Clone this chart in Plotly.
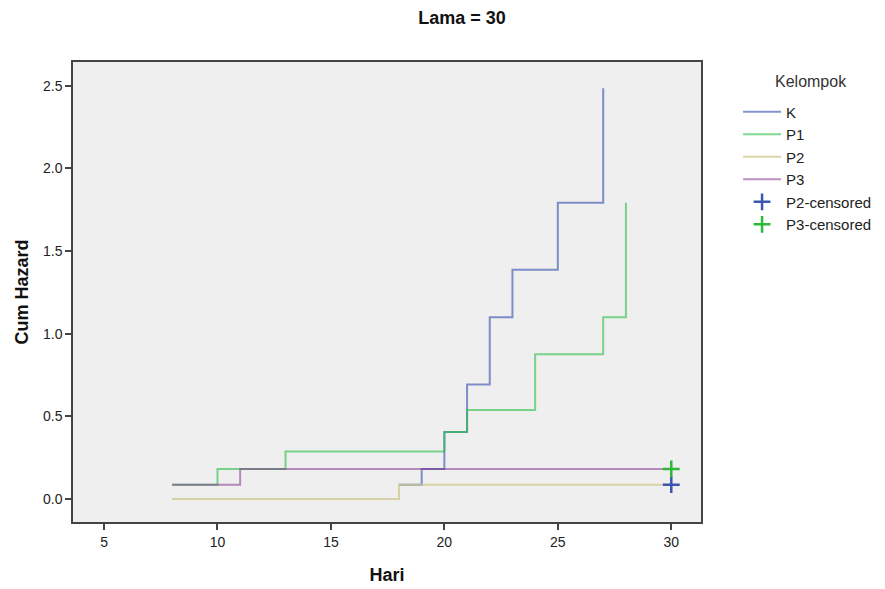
import numpy as np
import plotly.graph_objects as go

# Cumulative hazard step data (time, value after step)
k_time = [18, 19, 20, 21, 22, 23, 25, 27]
k_haz = [0.087, 0.182, 0.405, 0.693, 1.099, 1.386, 1.792, 2.485]

p1_time = [8, 10, 13, 20, 21, 24, 27, 28]
p1_haz = [0.087, 0.182, 0.288, 0.405, 0.539, 0.875, 1.099, 1.792]

p2_time = [8, 18, 30]
p2_haz = [0.0, 0.087, 0.087]

p3_time = [8, 11, 30]
p3_haz = [0.087, 0.182, 0.182]

p2_cens_time = [30]
p2_cens_haz = [0.087]
p3_cens_time = [30]
p3_cens_haz = [0.182]

x_ticks = [5, 10, 15, 20, 25, 30]
y_ticks = [0.0, 0.5, 1.0, 1.5, 2.0, 2.5]

FONT = "Liberation Sans, Arial, sans-serif"

fig = go.Figure()

def step(name, t, h, color):
    fig.add_trace(go.Scatter(
        x=t, y=h, mode="lines", name=name,
        line=dict(color=color, width=2, shape="hv"),
    ))

step("K", k_time, k_haz, "rgba(55,82,175,0.62)")
step("P1", p1_time, p1_haz, "rgba(40,190,70,0.6)")
step("P2", p2_time, p2_haz, "rgba(205,200,140,0.75)")
step("P3", p3_time, p3_haz, "rgba(123,36,129,0.5)")

fig.add_trace(go.Scatter(
    x=p2_cens_time, y=p2_cens_haz, mode="markers", name="P2-censored",
    marker=dict(symbol="cross-thin", size=12, line=dict(color="#3b57b0", width=2.5)),
))
fig.add_trace(go.Scatter(
    x=p3_cens_time, y=p3_cens_haz, mode="markers", name="P3-censored",
    marker=dict(symbol="cross-thin", size=12, line=dict(color="#2eb83a", width=2.5)),
))

fig.update_layout(
    width=885, height=589,
    margin=dict(l=65, r=192, t=54, b=75, autoexpand=False),
    paper_bgcolor="white",
    plot_bgcolor="#efefef",
    font=dict(family=FONT, size=13, color="#222"),
    title=dict(text="<b>Lama = 30</b>", x=454 / 885, xref="container",
               xanchor="center", y=1 - 10 / 589, yanchor="middle",
               font=dict(size=18, color="#111")),
    legend=dict(
        x=1.059, xanchor="left", y=0.927, yanchor="top",
        font=dict(size=15, color="#222"),
        tracegroupgap=0, itemwidth=38,
        bgcolor="rgba(0,0,0,0)",
    ),
    showlegend=True,
    annotations=[dict(
        text="Kelompok", xref="paper", yref="paper",
        x=(803 - 65) / 628, y=(514 - 74) / 460, xanchor="center", yanchor="middle",
        showarrow=False, font=dict(size=16, color="#333"),
    )],
)

fig.update_xaxes(
    range=[3.633, 31.31], tickvals=x_ticks, ticktext=[str(v) for v in x_ticks],
    showgrid=False, zeroline=False, showline=True, linecolor="#444", linewidth=1.5,
    mirror=True, ticks="outside", ticklen=6, tickwidth=1.5, tickcolor="#444",
    tickfont=dict(size=14, color="#222"), automargin=False,
    title=dict(text="<b>Hari</b>", font=dict(size=18, color="#111"), standoff=20),
)
fig.update_yaxes(
    range=[-0.139, 2.643], tickvals=y_ticks, ticktext=[f"{v:.1f}" for v in y_ticks],
    showgrid=False, zeroline=False, showline=True, linecolor="#444", linewidth=1.5,
    mirror=True, ticks="outside", ticklen=6, tickwidth=1.5, tickcolor="#444",
    tickfont=dict(size=14, color="#222"), automargin=False,
    title=dict(text="<b>Cum Hazard</b>", font=dict(size=18, color="#111"), standoff=10),
)

fig.write_html("out.html")
